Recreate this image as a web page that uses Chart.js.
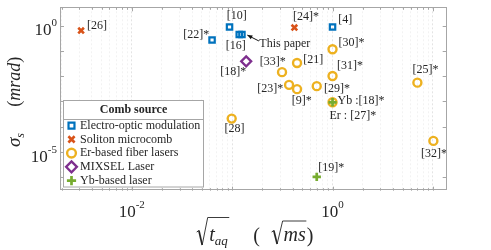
<!DOCTYPE html>
<html>
<head>
<meta charset="utf-8">
<script src="https://cdn.jsdelivr.net/npm/chart.js@4.4.0/dist/chart.umd.min.js"></script>
<style>
  html, body { margin: 0; padding: 0; background: #fff; }
  #wrap { width: 491px; height: 250px; }
</style>
</head>
<body>
<div id="wrap"><canvas id="chart" width="491" height="250"></canvas></div>
<script>
  const FONT = '"Liberation Serif", "Times New Roman", serif';
  const INK = '#262626';

  // --- data (sqrt(t_aq) in sqrt(ms), sigma_s in mrad) ---
  const seriesNames = ['Electro-optic modulation', 'Soliton microcomb', 'Er-based fiber lasers', 'MIXSEL Laser', 'Yb-based laser'];

  const eoLabels = ['[22]*', '[10]', '[16]', 'This paper', '[4]'];
  const eoX = [0.0631, 0.0942, 0.1177, 0.1252, 1.0];
  const eoY = [0.269, 0.88, 0.443, 0.443, 0.88];

  const solLabels = ['[26]', '[24]*'];
  const solX = [0.00313, 0.417];
  const solY = [0.634, 0.829];

  const erLabels = ['[30]*', '[21]', '[33]*', '[31]*', '[25]*', '[23]*', '[9]*', '[29]*', 'Er : [27]*', '[28]', '[32]*'];
  const erX = [1.0, 0.443, 0.314, 1.0, 7.0, 0.369, 0.443, 0.696, 1.0, 0.099, 10.1];
  const erY = [0.116, 0.0331, 0.0144, 0.0101, 0.00554, 0.00451, 0.00307, 0.00402, 0.000927, 0.00021, 2.76e-5];

  const mixLabels = ['[18]*'];
  const mixX = [0.138];
  const mixY = [0.0386];

  const ybLabels = ['Yb :[18]*', '[19]*'];
  const ybX = [1.0, 0.696];
  const ybY = [0.000927, 1.04e-6];

  const xTickValues = [0.01, 1];
  const xTickExps = ['-2', '0'];
  const yTickValues = [1, 1e-5];
  const yTickExps = ['0', '-5'];

  const xRange = [0.00193, 13.71];
  const yRange = [2.965e-7, 5.27];

  // label placement: [align, dx, dy] relative to the marker
  const labelPlace = {
    '[22]*': ['right', -2.7, -5.3],
    '[10]': ['center', 7.2, -11.3],
    '[16]': ['center', -3.5, 11],
    'This paper': ['left', 17.4, 9],
    '[4]': ['left', 5.6, -7.3],
    '[26]': ['left', 6, -4.7],
    '[24]*': ['left', -1.3, -10.7],
    '[30]*': ['left', 6, -6],
    '[21]': ['left', 6.3, -3.4],
    '[33]*': ['right', 3.7, -10],
    '[31]*': ['left', 4.4, -10.7],
    '[25]*': ['center', 8, -13],
    '[23]*': ['right', -5.7, 3.7],
    '[9]*': ['center', 4.7, 11.7],
    '[29]*': ['left', 7.3, 3],
    'Er : [27]*': ['left', -3, 13.6],
    '[28]': ['center', 2.8, 10],
    '[32]*': ['center', 0.7, 13.3],
    '[18]*': ['right', 0, 11],
    'Yb :[18]*': ['left', 5, -1.4],
    '[19]*': ['left', 1.6, -9]
  };

  function points(xs, ys) {
    return xs.map((x, i) => ({ x, y: ys[i] }));
  }

  function isDecade(v) {
    const e = Math.log10(v);
    return Math.abs(e - Math.round(e)) < 1e-6;
  }

  function marker(style, color, radius, width, order) {
    return {
      pointStyle: style,
      pointRadius: radius,
      pointHoverRadius: radius,
      pointBorderWidth: width,
      pointHoverBorderWidth: width,
      pointBorderColor: color,
      pointBackgroundColor: 'rgba(255,255,255,0)',
      borderColor: color,
      backgroundColor: 'rgba(255,255,255,0)',
      showLine: false,
      order
    };
  }

  const datasets = [
    Object.assign({ label: seriesNames[0], data: points(eoX, eoY), names: eoLabels }, marker('rect', '#0072BD', 3.8, 2.2, 1)),
    Object.assign({ label: seriesNames[1], data: points(solX, solY), names: solLabels }, marker('crossRot', '#D95319', 4, 2.6, 1)),
    Object.assign({ label: seriesNames[2], data: points(erX, erY), names: erLabels }, marker('circle', '#EDB120', 4, 2.4, 2)),
    Object.assign({ label: seriesNames[3], data: points(mixX, mixY), names: mixLabels }, marker('rectRot', '#7E2F8E', 5, 2.3, 1)),
    Object.assign({ label: seriesNames[4], data: points(ybX, ybY), names: ybLabels }, marker('cross', '#77AC30', 4.2, 2.7, 0))
  ];

  function font(size, style) {
    return (style ? style + ' ' : '') + size + 'px ' + FONT;
  }

  function drawLabels(chart) {
    const ctx = chart.ctx;
    ctx.save();
    ctx.fillStyle = INK;
    ctx.font = font(12);
    ctx.textBaseline = 'middle';
    chart.data.datasets.forEach((ds, di) => {
      const meta = chart.getDatasetMeta(di);
      meta.data.forEach((pt, j) => {
        const name = ds.names[j];
        const place = labelPlace[name];
        if (!place) return;
        ctx.textAlign = place[0];
        ctx.fillText(name, pt.x + place[1], pt.y + place[2]);
      });
    });
    // arrow to "This paper"
    const p = chart.getDatasetMeta(0).data[3];
    const x1 = p.x + 17, y1 = p.y + 6.5, x2 = p.x + 5.4, y2 = p.y + 0.6;
    const ang = Math.atan2(y2 - y1, x2 - x1);
    ctx.strokeStyle = '#111';
    ctx.lineWidth = 1;
    ctx.beginPath();
    ctx.moveTo(x1, y1);
    ctx.lineTo(x2, y2);
    ctx.stroke();
    ctx.fillStyle = '#111';
    ctx.beginPath();
    ctx.moveTo(x2, y2);
    ctx.lineTo(x2 - 5 * Math.cos(ang) + 2.2 * Math.sin(ang), y2 - 5 * Math.sin(ang) - 2.2 * Math.cos(ang));
    ctx.lineTo(x2 - 5 * Math.cos(ang) - 2.2 * Math.sin(ang), y2 - 5 * Math.sin(ang) + 2.2 * Math.cos(ang));
    ctx.closePath();
    ctx.fill();
    ctx.restore();
  }

  function drawLegend(chart) {
    const ctx = chart.ctx;
    const box = { x: 63.5, y: 100.5, w: 140, h: 86.5 };
    ctx.save();
    ctx.fillStyle = '#fff';
    ctx.fillRect(box.x, box.y, box.w, box.h);
    ctx.strokeStyle = '#a6a6a6';
    ctx.lineWidth = 1;
    ctx.strokeRect(box.x, box.y, box.w, box.h);
    ctx.beginPath();
    ctx.moveTo(box.x, 119.5);
    ctx.lineTo(box.x + box.w, 119.5);
    ctx.stroke();
    ctx.fillStyle = INK;
    ctx.font = font(12, 'bold');
    ctx.textAlign = 'center';
    ctx.textBaseline = 'middle';
    ctx.fillText('Comb source', box.x + box.w / 2, 110);
    chart.data.datasets.forEach((ds, i) => {
      const y = 125.6 + i * 13.75;
      ctx.save();
      ctx.strokeStyle = ds.pointBorderColor;
      ctx.fillStyle = ds.pointBackgroundColor;
      ctx.lineWidth = ds.pointBorderWidth;
      Chart.helpers.drawPoint(ctx, {
        pointStyle: ds.pointStyle,
        radius: ds.pointRadius + 0.4,
        borderWidth: ds.pointBorderWidth,
        rotation: 0
      }, 71.5, y);
      ctx.restore();
      ctx.fillStyle = INK;
      ctx.font = font(12);
      ctx.textAlign = 'left';
      ctx.fillText(ds.label, 80, y);
    });
    ctx.restore();
  }

  function drawFrame(chart) {
    const ctx = chart.ctx;
    const a = chart.chartArea;
    const xs = chart.scales.x, ys = chart.scales.y;
    ctx.save();
    ctx.strokeStyle = '#a6a6a6';
    ctx.lineWidth = 1;
    ctx.strokeRect(Math.round(a.left) + 0.5, Math.round(a.top) + 0.5, Math.round(a.right - a.left) - 1, Math.round(a.bottom - a.top) - 1);
    ctx.beginPath();
    xs.ticks.forEach(t => {
      const px = Math.round(xs.getPixelForValue(t.value)) + 0.5;
      const len = isDecade(t.value) ? 4 : 2.5;
      ctx.moveTo(px, a.bottom);
      ctx.lineTo(px, a.bottom - len);
      ctx.moveTo(px, a.top);
      ctx.lineTo(px, a.top + len);
    });
    ys.ticks.forEach(t => {
      const py = Math.round(ys.getPixelForValue(t.value)) + 0.5;
      ctx.moveTo(a.left, py);
      ctx.lineTo(a.left + 4, py);
      ctx.moveTo(a.right, py);
      ctx.lineTo(a.right - 4, py);
    });
    ctx.stroke();
    ctx.restore();
  }

  function drawPower(ctx, exp, x, y, align) {
    ctx.font = font(17);
    const wb = ctx.measureText('10').width;
    ctx.font = font(11);
    const we = ctx.measureText(exp).width;
    const total = wb + we;
    const x0 = align === 'right' ? x - total : x - total / 2;
    ctx.textAlign = 'left';
    ctx.textBaseline = 'alphabetic';
    ctx.font = font(17);
    ctx.fillText('10', x0, y);
    ctx.font = font(11);
    ctx.fillText(exp, x0 + wb, y - 9);
  }

  function drawTickLabels(chart) {
    const ctx = chart.ctx;
    const xs = chart.scales.x, ys = chart.scales.y;
    ctx.save();
    ctx.fillStyle = INK;
    xTickValues.forEach((v, i) => {
      drawPower(ctx, xTickExps[i], xs.getPixelForValue(v), 216.7, 'center');
    });
    yTickValues.forEach((v, i) => {
      drawPower(ctx, yTickExps[i], 57, ys.getPixelForValue(v) + 9.6, 'right');
    });
    ctx.restore();
  }

  function radical(ctx, x, base, top, bottom, endX) {
    ctx.beginPath();
    ctx.lineWidth = 1;
    ctx.moveTo(x, base - 9);
    ctx.lineTo(x + 2.2, base - 10.5);
    ctx.stroke();
    ctx.beginPath();
    ctx.lineWidth = 1.7;
    ctx.moveTo(x + 2.2, base - 10.5);
    ctx.lineTo(x + 5.5, bottom);
    ctx.stroke();
    ctx.beginPath();
    ctx.lineWidth = 0.9;
    ctx.moveTo(x + 5.5, bottom);
    ctx.lineTo(x + 11, top);
    ctx.lineTo(endX, top);
    ctx.stroke();
  }

  function drawTitles(chart) {
    const ctx = chart.ctx;
    ctx.save();
    ctx.fillStyle = INK;
    ctx.strokeStyle = INK;
    ctx.textBaseline = 'alphabetic';
    ctx.textAlign = 'left';

    // x title: sqrt(t_aq)   (sqrt(ms)), anchored at the reference positions
    const base = 241;
    let cx = 196.7;
    ctx.font = font(20, 'italic');
    const wt = ctx.measureText('t').width;
    ctx.font = font(13, 'italic');
    const waq = ctx.measureText('aq').width;
    radical(ctx, cx, base, 217.5, base + 4, cx + 12 + wt + waq + 2);
    cx += 12.5;
    ctx.font = font(20, 'italic');
    ctx.fillText('t', cx, base);
    cx += wt;
    ctx.font = font(13, 'italic');
    ctx.fillText('aq', cx, base + 4);

    cx = 253.3;
    ctx.font = font(20);
    ctx.fillText('(', cx, base + 1);
    ctx.textAlign = 'right';
    ctx.fillText(')', 313.5, base + 1);
    const rpar = 313.5 - ctx.measureText(')').width;
    ctx.textAlign = 'left';
    ctx.font = font(20, 'italic');
    const wms = ctx.measureText('ms').width;
    const msX = rpar - 1 - wms;
    radical(ctx, msX - 12, base, 221, base + 3, rpar - 0.5);
    ctx.fillText('ms', msX, base);

    // y title: sigma_s   (mrad), rotated
    ctx.translate(20, 102);
    ctx.rotate(-Math.PI / 2);
    let cy = -45;
    ctx.font = font(19, 'italic');
    ctx.fillText('σ', cy, 0);
    cy += ctx.measureText('σ').width;
    ctx.font = font(12, 'italic');
    ctx.fillText('s', cy, 3.5);

    ctx.font = font(18);
    const wpc = ctx.measureText(')').width;
    const wpo = ctx.measureText('(').width;
    ctx.font = font(18, 'italic');
    const wmrad = ctx.measureText('mrad').width;
    let my = 45.3 - wpc - wmrad - wpo;
    ctx.font = font(18);
    ctx.fillText('(', my, 0);
    my += wpo;
    ctx.font = font(18, 'italic');
    ctx.fillText('mrad', my, 0);
    my += wmrad;
    ctx.font = font(18);
    ctx.fillText(')', my, 0);
    ctx.restore();
  }

  const decor = {
    id: 'decor',
    afterDatasetsDraw(chart) {
      drawLabels(chart);
    },
    afterDraw(chart) {
      drawLegend(chart);
      drawFrame(chart);
      drawTickLabels(chart);
      drawTitles(chart);
    }
  };

  function logTicks(min, max, decadesOnly) {
    const out = [];
    for (let e = Math.floor(Math.log10(min)); e <= Math.ceil(Math.log10(max)); e++) {
      for (let s = 1; s <= 9; s++) {
        if (decadesOnly && s > 1) continue;
        const v = s * Math.pow(10, e);
        if (v >= min && v <= max) out.push({ value: v });
      }
    }
    return out;
  }

  new Chart(document.getElementById('chart'), {
    type: 'scatter',
    data: { datasets },
    options: {
      responsive: false,
      animation: false,
      events: [],
      layout: { padding: { left: 0, top: 4, right: 44.3, bottom: 0 } },
      plugins: { legend: { display: false }, tooltip: { enabled: false } },
      scales: {
        x: {
          type: 'logarithmic',
          min: xRange[0],
          max: xRange[1],
          afterBuildTicks(scale) { scale.ticks = logTicks(xRange[0], xRange[1], false); },
          afterFit(scale) { scale.height = 59.3; },
          ticks: { display: false },
          border: { display: false, dash: [2, 2] },
          grid: {
            drawTicks: false,
            color: ctx => isDecade(ctx.tick.value) ? 'rgba(0,0,0,0.11)' : 'rgba(0,0,0,0.05)',
            lineWidth: 1
          }
        },
        y: {
          type: 'logarithmic',
          min: yRange[0],
          max: yRange[1],
          afterBuildTicks(scale) { scale.ticks = logTicks(yRange[0], yRange[1], true); },
          afterFit(scale) { scale.width = 60; },
          ticks: { display: false },
          border: { display: false },
          grid: { display: false, drawTicks: false }
        }
      }
    },
    plugins: [decor]
  });
</script>
</body>
</html>
